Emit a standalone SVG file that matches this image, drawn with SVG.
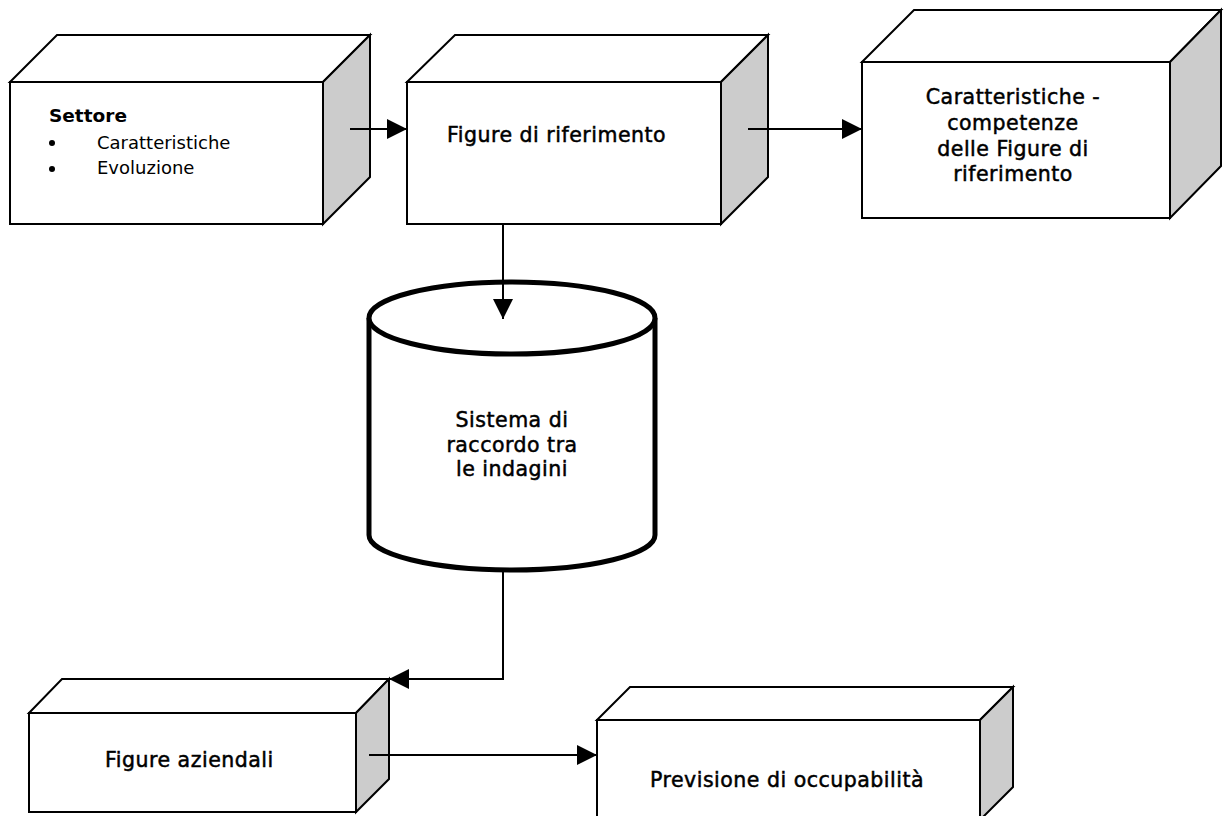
<svg xmlns="http://www.w3.org/2000/svg" width="1232" height="816" viewBox="0 0 1232 816">
<style>
  .face{fill:#ffffff;stroke:#000000;stroke-width:2;stroke-linejoin:miter}
  .side{fill:#cccccc;stroke:#000000;stroke-width:2;stroke-linejoin:miter}
  .lbl{font-family:"DejaVu Sans",Verdana,sans-serif;font-size:20.5px;font-weight:normal;letter-spacing:0.5px;fill:#000000;stroke:#000000;stroke-width:0.5px}
  .head{font-family:"DejaVu Sans",Verdana,sans-serif;font-size:18.5px;font-weight:bold;fill:#000000}
  .lite{font-family:"DejaVu Sans",Verdana,sans-serif;font-size:18px;font-weight:normal;fill:#000000}
  .conn{fill:none;stroke:#000000;stroke-width:2}
  .cyl{fill:#ffffff;stroke:#000000;stroke-width:5}
</style>
<defs>
  <marker id="arrow" viewBox="0 0 20 20" refX="20" refY="10" markerWidth="20" markerHeight="20" markerUnits="userSpaceOnUse" orient="auto">
    <path d="M0,0 L20,10 L0,20 Z" fill="#000000"/>
  </marker>
</defs>
<rect x="0" y="0" width="1232" height="816" fill="#ffffff"/>

<g id="settore">
  <polygon class="face" points="10,82 57,35 370,35 323,82"/>
  <polygon class="side" points="323,82 370,35 370,177 323,224"/>
  <rect class="face" x="10" y="82" width="313" height="142"/>
  <text class="head" x="49" y="122">Settore</text>
  <circle cx="52" cy="143" r="3" fill="#000000"/>
  <circle cx="52" cy="169" r="3" fill="#000000"/>
  <text class="lite" x="97" y="149">Caratteristiche</text>
  <text class="lite" x="97" y="174">Evoluzione</text>
</g>

<g id="figure-riferimento">
  <polygon class="face" points="407,82 455,35 768,35 721,82"/>
  <polygon class="side" points="721,82 768,35 768,177 721,224"/>
  <rect class="face" x="407" y="82" width="314" height="142"/>
  <text class="lbl" x="447" y="142">Figure di riferimento</text>
</g>

<g id="caratteristiche-competenze">
  <polygon class="face" points="862,62 914,10 1221,10 1170,62"/>
  <polygon class="side" points="1170,62 1221,10 1221,166 1170,218"/>
  <rect class="face" x="862" y="62" width="308" height="156"/>
  <text class="lbl" text-anchor="middle" x="1013" y="104">Caratteristiche -</text>
  <text class="lbl" text-anchor="middle" x="1013" y="130">competenze</text>
  <text class="lbl" text-anchor="middle" x="1013" y="156">delle Figure di</text>
  <text class="lbl" text-anchor="middle" x="1013" y="181">riferimento</text>
</g>

<g id="sistema-raccordo">
  <path class="cyl" d="M369,318 L369,535 A143,35 0 0 0 655,535 L655,318 A143,36 0 0 0 369,318 Z"/>
  <path class="cyl" d="M369,318 A143,36 0 0 0 655,318"/>
  <text class="lbl" text-anchor="middle" x="512" y="427">Sistema di</text>
  <text class="lbl" text-anchor="middle" x="512" y="452">raccordo tra</text>
  <text class="lbl" text-anchor="middle" x="512" y="476">le indagini</text>
</g>

<g id="figure-aziendali">
  <polygon class="face" points="29,713 62,679 389,679 356,713"/>
  <polygon class="side" points="356,713 389,679 389,779 356,812"/>
  <rect class="face" x="29" y="713" width="327" height="99"/>
  <text class="lbl" x="105" y="767">Figure aziendali</text>
</g>

<g id="previsione">
  <polygon class="face" points="597,720 630,687 1013,687 980,720"/>
  <polygon class="side" points="980,720 1013,687 1013,787 980,820"/>
  <rect class="face" x="597" y="720" width="383" height="110"/>
  <text class="lbl" x="650" y="787">Previsione di occupabilità</text>
</g>

<g id="connectors">
  <line class="conn" x1="350" y1="129" x2="407" y2="129" marker-end="url(#arrow)"/>
  <line class="conn" x1="748" y1="129" x2="862" y2="129" marker-end="url(#arrow)"/>
  <line class="conn" x1="503" y1="224" x2="503" y2="319" marker-end="url(#arrow)"/>
  <polyline class="conn" points="503,570 503,679 389,679" marker-end="url(#arrow)"/>
  <line class="conn" x1="369" y1="755" x2="597" y2="755" marker-end="url(#arrow)"/>
</g>
</svg>
